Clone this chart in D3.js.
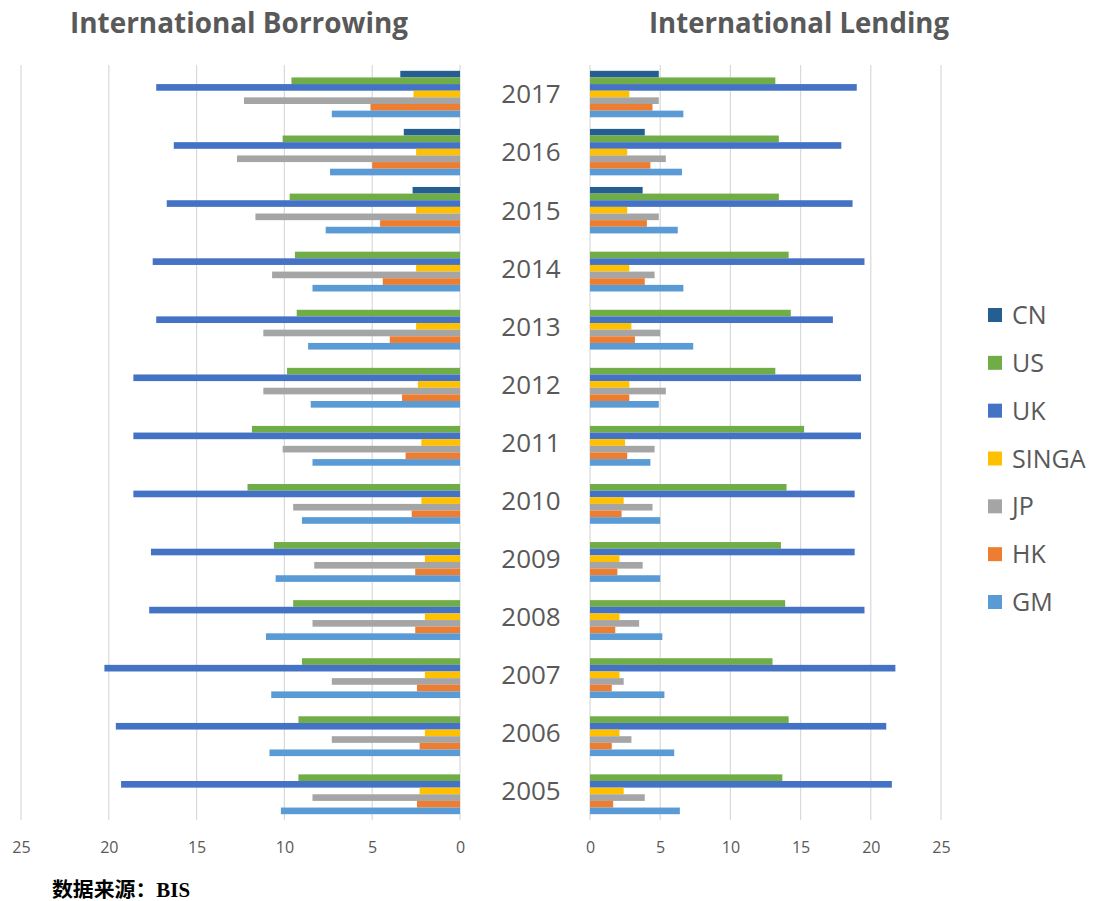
<!DOCTYPE html>
<html>
<head>
<meta charset="utf-8">
<script src="https://cdn.jsdelivr.net/npm/d3@7"></script>
<style>
  html, body { margin: 0; padding: 0; background: #fff; }
  svg { display: block; }
</style>
</head>
<body>
<svg id="chart" width="1094" height="901"></svg>
<script>
const years = ["2017","2016","2015","2014","2013","2012","2011","2010","2009","2008","2007","2006","2005"];
const seriesNames = ["CN","US","UK","SINGA","JP","HK","GM"];
const seriesColors = ["#255e91","#70ad47","#4472c4","#ffc000","#a5a5a5","#ed7d31","#5b9bd5"];
const tickValues = [0,5,10,15,20,25];

// International Borrowing (per year, top to bottom order of years above)
const borrowCN    = [3.4, 3.2, 2.7, 0, 0, 0, 0, 0, 0, 0, 0, 0, 0];
const borrowUS    = [9.6, 10.1, 9.7, 9.4, 9.3, 9.85, 11.85, 12.1, 10.6, 9.5, 9.0, 9.2, 9.2];
const borrowUK    = [17.3, 16.3, 16.7, 17.5, 17.3, 18.6, 18.6, 18.6, 17.6, 17.7, 20.25, 19.6, 19.3];
const borrowSINGA = [2.65, 2.5, 2.5, 2.5, 2.5, 2.4, 2.2, 2.2, 2.0, 2.0, 2.0, 2.0, 2.3];
const borrowJP    = [12.3, 12.7, 11.65, 10.7, 11.2, 11.2, 10.1, 9.5, 8.3, 8.4, 7.3, 7.3, 8.4];
const borrowHK    = [5.1, 5.0, 4.55, 4.4, 4.0, 3.3, 3.1, 2.75, 2.55, 2.55, 2.45, 2.3, 2.45];
const borrowGM    = [7.3, 7.4, 7.65, 8.4, 8.65, 8.5, 8.4, 9.0, 10.5, 11.05, 10.75, 10.85, 10.2];

// International Lending
const lendCN    = [4.9, 3.9, 3.75, 0, 0, 0, 0, 0, 0, 0, 0, 0, 0];
const lendUS    = [13.2, 13.45, 13.45, 14.15, 14.3, 13.2, 15.25, 14.0, 13.6, 13.9, 13.0, 14.15, 13.7];
const lendUK    = [19.0, 17.9, 18.7, 19.55, 17.3, 19.3, 19.3, 18.85, 18.85, 19.55, 21.75, 21.1, 21.5];
const lendSINGA = [2.8, 2.65, 2.65, 2.8, 2.95, 2.8, 2.5, 2.4, 2.1, 2.1, 2.1, 2.1, 2.4];
const lendJP    = [4.9, 5.4, 4.9, 4.6, 5.0, 5.4, 4.6, 4.45, 3.75, 3.5, 2.4, 2.95, 3.9];
const lendHK    = [4.45, 4.3, 4.05, 3.9, 3.2, 2.8, 2.65, 2.25, 1.95, 1.8, 1.55, 1.55, 1.65];
const lendGM    = [6.65, 6.55, 6.25, 6.65, 7.35, 4.9, 4.3, 5.0, 5.0, 5.15, 5.3, 6.0, 6.4];

const borrow = [borrowCN, borrowUS, borrowUK, borrowSINGA, borrowJP, borrowHK, borrowGM];
const lend = [lendCN, lendUS, lendUK, lendSINGA, lendJP, lendHK, lendGM];

const svg = d3.select("#chart");
const textColor = "#595959";
const gridColor = "#d9d9d9";

const plotTop = 65, plotBottom = 820;
const y = d3.scaleBand().domain(years).range([plotTop, plotBottom]).paddingInner(0.2).paddingOuter(0.1);
const ySub = d3.scaleBand().domain(seriesNames).range([0, y.bandwidth()]).padding(0);

const xL = d3.scaleLinear().domain([0, 25]).range([460, 21]);
const xR = d3.scaleLinear().domain([0, 25]).range([590, 941]);

function panel(x, dataArr, isLeft) {
  const g = svg.append("g");
  g.selectAll("line.grid").data(tickValues).join("line")
    .attr("x1", d => x(d)).attr("x2", d => x(d))
    .attr("y1", plotTop).attr("y2", plotBottom)
    .attr("stroke", gridColor).attr("stroke-width", 1.2);
  const axis = d3.axisBottom(x).tickValues(tickValues).tickSize(0).tickPadding(0);
  const ax = g.append("g").attr("transform", `translate(0,${plotBottom + 22})`).call(axis);
  ax.select(".domain").remove();
  ax.selectAll("text")
    .attr("fill", textColor)
    .attr("font-family", "'Open Sans', 'DejaVu Sans', sans-serif")
    .attr("font-size", 16);
  seriesNames.forEach((s, si) => {
    g.selectAll(null).data(years).join("rect")
      .attr("y", (d) => y(d) + ySub(s))
      .attr("height", ySub.bandwidth())
      .attr("x", (d, i) => isLeft ? x(dataArr[si][i]) : x(0))
      .attr("width", (d, i) => Math.abs(x(dataArr[si][i]) - x(0)))
      .attr("fill", seriesColors[si]);
  });
}

panel(xL, borrow, true);
panel(xR, lend, false);

// year labels
svg.append("g").selectAll("text").data(years).join("text")
  .attr("x", 531)
  .attr("y", d => y(d) + y.bandwidth() / 2)
  .attr("dy", "0.36em")
  .attr("text-anchor", "middle")
  .attr("fill", textColor)
  .attr("font-family", "'Open Sans', 'DejaVu Sans', sans-serif")
  .attr("font-size", 26)
  .text(d => d);

// titles
const titles = [
  { t: "International Borrowing", x: 70, w: 338 },
  { t: "International Lending", x: 649, w: 300 }
];
svg.append("g").selectAll("text").data(titles).join("text")
  .attr("x", d => d.x).attr("y", 33)
  .attr("textLength", d => d.w)
  .attr("lengthAdjust", "spacingAndGlyphs")
  .attr("fill", textColor)
  .attr("font-family", "'Open Sans', 'DejaVu Sans', sans-serif")
  .attr("font-weight", "bold")
  .attr("font-size", 29)
  .text(d => d.t);

// legend
const legend = svg.append("g");
const legY = d3.scalePoint().domain(seriesNames).range([315, 602]);
legend.selectAll("rect").data(seriesNames).join("rect")
  .attr("x", 988).attr("y", d => legY(d) - 7)
  .attr("width", 14).attr("height", 14)
  .attr("fill", (d, i) => seriesColors[i]);
legend.selectAll("text").data(seriesNames).join("text")
  .attr("x", 1012).attr("y", d => legY(d))
  .attr("dy", "0.36em")
  .attr("fill", textColor)
  .attr("font-family", "'Open Sans', 'DejaVu Sans', sans-serif")
  .attr("font-size", 25)
  .text(d => d);

// source
svg.append("text")
  .attr("x", 52).attr("y", 897)
  .attr("textLength", 138)
  .attr("lengthAdjust", "spacingAndGlyphs")
  .attr("fill", "#000")
  .attr("font-family", "'Liberation Serif', 'Noto Sans CJK SC', serif")
  .attr("font-weight", "bold")
  .attr("font-size", 20)
  .text("数据来源：BIS");
</script>
</body>
</html>
